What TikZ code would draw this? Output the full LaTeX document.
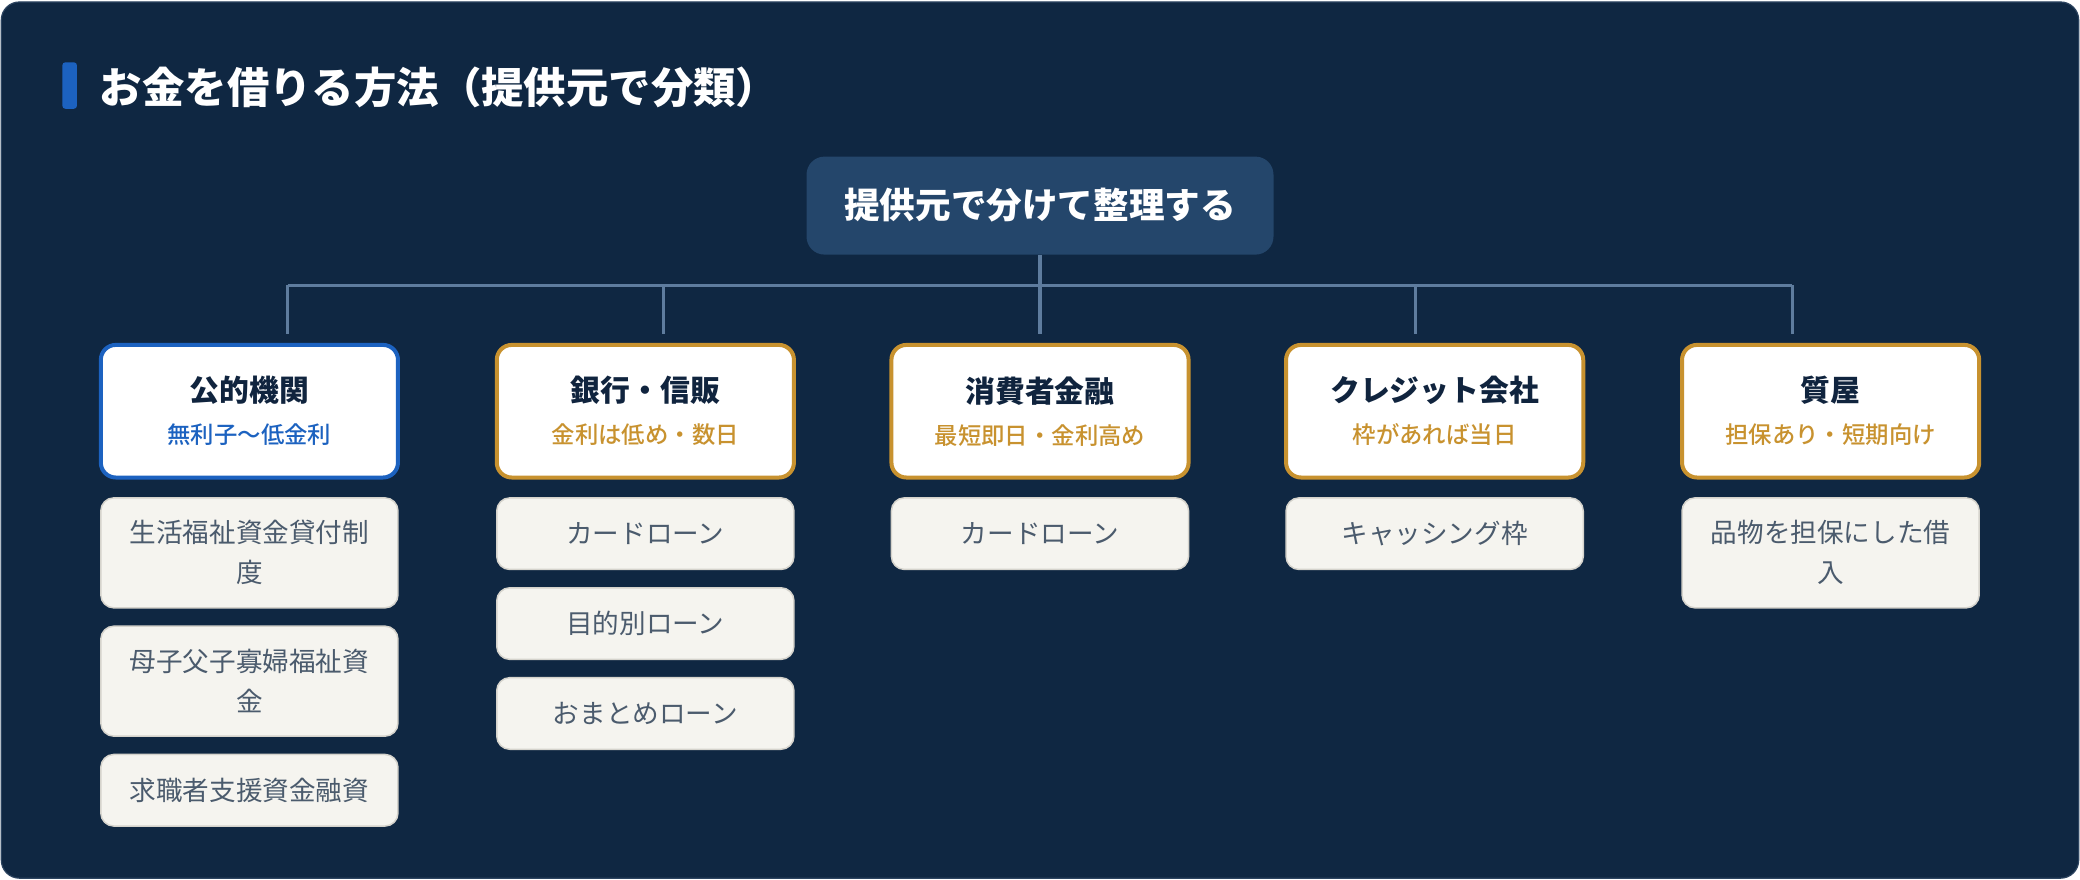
\documentclass[tikz,border=0pt]{standalone}
\usepackage{fontspec}
\setmainfont{Noto Sans CJK JP}
\newfontfamily\medfont{Noto Sans CJK JP Medium}
\newfontfamily\heavyfont{Noto Sans CJK JP Black}
\usepackage{tikz}
\usepackage{xcolor}
\usetikzlibrary{positioning}

\definecolor{navy}{HTML}{0F2742}
\definecolor{cardedge}{HTML}{2C4460}
\definecolor{rootblue}{HTML}{24466B}
\definecolor{linkgray}{HTML}{5E7C9E}
\definecolor{accent}{HTML}{1C62C0}
\definecolor{gold}{HTML}{C8922F}
\definecolor{titledark}{HTML}{10243E}
\definecolor{itemfill}{HTML}{F5F4EF}
\definecolor{itemline}{HTML}{D5D3CC}
\definecolor{itemtext}{HTML}{4B5B6D}

\newcommand{\cattext}[3]{{\fontsize{14.9}{21}\selectfont\bfseries\color{titledark}#2}\\{\medfont\color{#1}#3}}

\begin{document}
\begin{tikzpicture}[x=0.6633pt,y=-0.6633pt]
    % Box style definitions
    \tikzset{
        rootbox/.style={fill=rootblue, rounded corners=9pt, minimum width=233.5pt, minimum height=49pt,
            text=white, font=\bfseries\fontsize{17.8}{20}\selectfont, inner sep=0pt},
        catbox/.style={fill=white, draw=#1, line width=2pt, rounded corners=7.5pt, minimum width=148.6pt,
            minimum height=66.3pt, align=center, inner sep=0pt, font=\fontsize{11.7}{21}\selectfont},
        itembox/.style={fill=itemfill, draw=itemline, line width=0.75pt, rounded corners=6.5pt,
            minimum width=148.6pt, minimum height=35.8pt, align=center, text=itemtext,
            font=\fontsize{13.3}{20}\selectfont, inner sep=0pt},
        tallitem/.style={itembox, minimum height=55pt},
        link/.style={linkgray, line width=1.6pt}
    }

    % ==========================================
    % CARD AND HEADING
    % ==========================================
    \fill[white] (0,0) rectangle (1568,663);
    \filldraw[fill=navy, draw=cardedge, line width=0.6pt, rounded corners=9pt] (1,1.5) rectangle (1567,662);
    \fill[accent, rounded corners=1.5pt] (47,47) rectangle (58,82);
    \node[anchor=west, text=white, font=\heavyfont\fontsize{21.2}{24}\selectfont] (heading) at (70,66) {お金を借りる方法（提供元で分類）};

    % ==========================================
    % ROOT AND PROVIDERS (y = 155 to y = 310)
    % ==========================================
    \node[rootbox] (root) at (784,155) {提供元で分けて整理する};

    \node[catbox=accent] (pub)    at (188,310)    {\cattext{accent}{公的機関}{無利子〜低金利}};
    \node[catbox=gold]   (bank)   at (486.5,310)  {\cattext{gold}{銀行・信販}{金利は低め・数日}};
    \node[catbox=gold]   (cons)   at (784,310)    {\cattext{gold}{消費者金融}{最短即日・金利高め}};
    \node[catbox=gold]   (credit) at (1081.5,310) {\cattext{gold}{クレジット会社}{枠があれば当日}};
    \node[catbox=gold]   (pawn)   at (1380,310)   {\cattext{gold}{質屋}{担保あり・短期向け}};

    % Branch lines: bar at y = 215, drops end just above the boxes
    \foreach \i/\x in {1/217, 2/500, 3/784, 4/1067, 5/1351} {
        \coordinate (bar\i) at (\x,215);
        \coordinate (drop\i) at (\x,252);
    }
    \draw[link] (root.south) -- (bar3);
    \draw[link] (bar1) -- (bar5);
    \foreach \i in {1,...,5}
        \draw[link] (bar\i) -- (drop\i);

    % ==========================================
    % LOAN TYPES under each provider
    % ==========================================
    \node[tallitem, below=8.8pt of pub]   (pub1)  {生活福祉資金貸付制\\度};
    \node[tallitem, below=8.4pt of pub1]  (pub2)  {母子父子寡婦福祉資\\金};
    \node[itembox,  below=8.4pt of pub2]  (pub3)  {求職者支援資金融資};

    \node[itembox, below=8.8pt of bank]   (bank1) {カードローン};
    \node[itembox, below=8.4pt of bank1]  (bank2) {目的別ローン};
    \node[itembox, below=8.4pt of bank2]  (bank3) {おまとめローン};

    \node[itembox, below=8.8pt of cons]   (cons1) {カードローン};
    \node[itembox, below=8.8pt of credit] (credit1) {キャッシング枠};
    \node[tallitem, below=8.8pt of pawn]  (pawn1) {品物を担保にした借\\入};
\end{tikzpicture}
\end{document}
